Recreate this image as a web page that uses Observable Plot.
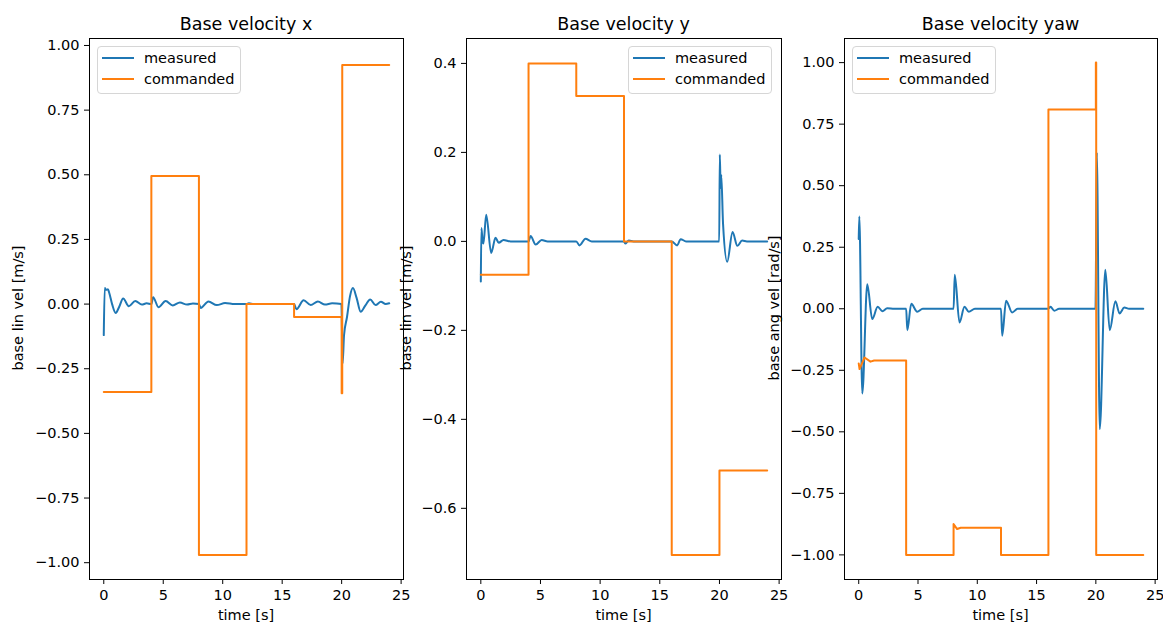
<!DOCTYPE html>
<html>
<head>
<meta charset="utf-8">
<script src="https://cdn.jsdelivr.net/npm/d3@7"></script>
<script src="https://cdn.jsdelivr.net/npm/@observablehq/plot@0.6"></script>
<style>
  body { margin: 0; background: #fff; }
  #root { position: relative; width: 1163px; height: 624px; overflow: hidden; font-family: "DejaVu Sans", sans-serif; color: #000; background: #fff; }
  .panel { position: absolute; top: 0; }
  .title { position: absolute; top: 14px; font-size: 17.5px; line-height: 20px; transform: translateX(-50%); white-space: nowrap; }
  .xlabel { position: absolute; font-size: 14.5px; transform: translate(-50%, -50%); white-space: nowrap; }
  .ylabel { position: absolute; font-size: 14.5px; transform: translate(-50%, -50%) rotate(-90deg); white-space: nowrap; }
  .legend { position: absolute; width: 144px; height: 48px; box-sizing: border-box; border: 1px solid #d6d6d6; border-radius: 4px; background: rgba(255,255,255,0.8); font-size: 14.5px; }
  .legend .sw { position: absolute; left: 4px; width: 32px; height: 2px; }
  .legend .lt { position: absolute; left: 46px; line-height: 18px; white-space: nowrap; }
</style>
</head>
<body>
<div id="root"></div>
<script>
// ---------------- data ----------------
const panelTitles = ["Base velocity x", "Base velocity y", "Base velocity yaw"];
const yLabels = ["base lin vel [m/s]", "base lin vel [m/s]", "base ang vel [rad/s]"];
const seriesNames = ["measured", "commanded"];
const xTicks = [0, 5, 10, 15, 20, 25];
const yTicksX = [-1.0, -0.75, -0.5, -0.25, 0, 0.25, 0.5, 0.75, 1.0];
const yTicksY = [-0.6, -0.4, -0.2, 0, 0.2, 0.4];
const yTicksYaw = [-1.0, -0.75, -0.5, -0.25, 0, 0.25, 0.5, 0.75, 1.0];

// Base velocity x — measured
const tMeasX = [0, 0.08, 0.2, 0.35, 0.45, 0.7, 1.0, 1.3, 1.63, 2.1, 2.65, 3.2, 3.6, 4.0, 4.15, 4.6, 5.2, 5.8, 6.4, 7.0, 7.5, 8.0, 8.15, 8.8, 9.5, 10.2, 11.0, 12.0, 12.2, 12.6, 16.0, 16.2, 16.8, 17.4, 18.0, 18.6, 19.2, 19.98, 20.08, 20.2, 20.45, 20.7, 20.95, 21.25, 21.6, 22.0, 22.4, 22.85, 23.3, 23.7, 24.0];
const vMeasX = [-0.12, 0.062, 0.055, 0.057, 0.045, 0.0, -0.034, -0.01, 0.022, -0.008, 0.012, -0.002, 0.003, 0.0, 0.026, -0.012, 0.012, -0.005, 0.006, -0.002, 0.002, 0.0, -0.015, 0.01, -0.004, 0.004, 0.0, 0.0, 0.003, 0.0, 0.0, -0.02, 0.015, -0.004, 0.01, -0.002, 0.003, 0.0, -0.23, -0.12, -0.05, 0.03, 0.062, 0.025, -0.03, -0.005, 0.018, -0.004, 0.009, 0.0, 0.003];
// Base velocity x — commanded
const tCmdX = [0, 4, 4, 8, 8, 12, 12, 16, 16, 20, 20, 20.05, 20.05, 24];
const vCmdX = [-0.34, -0.34, 0.495, 0.495, -0.97, -0.97, 0.0, 0.0, -0.05, -0.05, -0.345, -0.345, 0.925, 0.925];

// Base velocity y — measured
const tMeasY = [0, 0.05, 0.15, 0.22, 0.45, 0.87, 1.23, 1.5, 1.9, 2.5, 4.0, 4.17, 4.6, 5.1, 5.6, 8.0, 8.27, 8.77, 9.3, 12.0, 12.1, 12.4, 12.8, 16.0, 16.45, 16.75, 17.2, 19.98, 20.03, 20.1, 20.15, 20.3, 20.65, 21.1, 21.5, 21.9, 22.3, 24.0];
const vMeasY = [-0.09, 0.03, 0.0, -0.005, 0.06, -0.026, 0.008, -0.003, 0.003, 0.0, 0.0, 0.012, -0.007, 0.003, 0.0, 0.0, -0.009, 0.006, 0.0, 0.0, -0.005, 0.002, 0.0, 0.0, -0.009, 0.005, 0.0, 0.0, 0.195, 0.12, 0.15, 0.04, -0.046, 0.021, -0.01, 0.002, 0.0, 0.0];
// Base velocity y — commanded
const tCmdY = [0, 4, 4, 8, 8, 12, 12, 16, 16, 20, 20, 24];
const vCmdY = [-0.075, -0.075, 0.4, 0.4, 0.327, 0.327, 0.0, 0.0, -0.705, -0.705, -0.515, -0.515];

// Base velocity yaw — measured
const tMeasYaw = [0, 0.05, 0.3, 0.72, 1.14, 1.6, 2.0, 2.4, 3.0, 4.0, 4.1, 4.43, 4.93, 5.4, 8.0, 8.1, 8.5, 8.92, 9.28, 9.8, 12.0, 12.1, 12.43, 12.94, 13.4, 16.0, 16.17, 16.5, 16.9, 19.97, 20.08, 20.33, 20.8, 21.17, 21.65, 22.0, 22.4, 22.8, 24.0];
const vMeasYaw = [0.283, 0.375, -0.344, 0.10, -0.042, 0.008, -0.01, 0.002, 0.0, 0.0, -0.087, 0.02, -0.012, 0.0, 0.0, 0.138, -0.056, 0.008, -0.012, 0.0, 0.0, -0.11, 0.033, -0.015, 0.0, 0.0, 0.008, -0.008, 0.0, 0.0, 0.635, -0.489, 0.158, -0.087, 0.03, -0.019, 0.005, 0.0, 0.0];
// Base velocity yaw — commanded
const tCmdYaw = [0, 0.07, 0.49, 0.99, 1.3, 4, 4, 8, 8, 8.3, 8.6, 12, 12, 16, 16, 20, 20, 20.03, 20.03, 24];
const vCmdYaw = [-0.222, -0.245, -0.198, -0.215, -0.21, -0.21, -1.0, -1.0, -0.875, -0.895, -0.89, -0.89, -1.0, -1.0, 0.81, 0.81, 1.0, 1.0, -1.0, -1.0];

const colors = ["#1f77b4", "#ff7f0e"];

// ---------------- build ----------------
const toRows = (ts, vs) => ts.map((t, i) => ({t, v: vs[i]}));
const root = document.getElementById("root");

const panels = [
  {wrapLeft: 0, width: 430, frameL: 89, frameR: 403, yDomain: [-1.065, 1.027], yTicks: yTicksX, fmt: d3.format(".2f"),
   meas: toRows(tMeasX, vMeasX), cmd: toRows(tCmdX, vCmdX), legend: {left: 97, top: 46}, ylabelX: 18},
  {wrapLeft: 410, width: 400, frameL: 466, frameR: 781, yDomain: [-0.76, 0.456], yTicks: yTicksY, fmt: d3.format(".1f"),
   meas: toRows(tMeasY, vMeasY), cmd: toRows(tCmdY, vCmdY), legend: {left: 628, top: 46}, ylabelX: 406},
  {wrapLeft: 790, width: 373, frameL: 844, frameR: 1157, yDomain: [-1.1, 1.098], yTicks: yTicksYaw, fmt: d3.format(".2f"),
   meas: toRows(tMeasYaw, vMeasYaw), cmd: toRows(tCmdYaw, vCmdYaw), legend: {left: 852, top: 46}, ylabelX: 774}
];

panels.forEach((p, i) => {
  const wrap = document.createElement("div");
  wrap.className = "panel";
  wrap.style.left = p.wrapLeft + "px";
  wrap.style.width = p.width + "px";
  const svg = Plot.plot({
    width: p.width,
    height: 624,
    marginLeft: p.frameL - p.wrapLeft,
    marginRight: p.wrapLeft + p.width - p.frameR,
    marginTop: 38,
    marginBottom: 45,
    style: {background: "transparent", fontFamily: "DejaVu Sans, sans-serif", fontSize: "14.5px", color: "#000", overflow: "visible"},
    x: {domain: [-1.2, 25.2]},
    y: {domain: p.yDomain},
    marks: [
      Plot.line(p.meas, {x: "t", y: "v", stroke: colors[0], strokeWidth: 2, curve: "monotone-x"}),
      Plot.line(p.cmd, {x: "t", y: "v", stroke: colors[1], strokeWidth: 2}),
      Plot.frame({stroke: "#000", strokeWidth: 1}),
      Plot.axisX({ticks: xTicks, tickFormat: d => String(d), tickSize: 5, tickPadding: 5, label: null}),
      Plot.axisY({ticks: p.yTicks, tickFormat: p.fmt, tickSize: 5, tickPadding: 5, label: null})
    ]
  });
  wrap.appendChild(svg);
  root.appendChild(wrap);

  const cx = (p.frameL + p.frameR) / 2;
  const title = document.createElement("div");
  title.className = "title";
  title.style.left = cx + "px";
  title.textContent = panelTitles[i];
  root.appendChild(title);

  const xl = document.createElement("div");
  xl.className = "xlabel";
  xl.style.left = cx + "px";
  xl.style.top = "615px";
  xl.textContent = "time [s]";
  root.appendChild(xl);

  const yl = document.createElement("div");
  yl.className = "ylabel";
  yl.style.left = p.ylabelX + "px";
  yl.style.top = "308px";
  yl.textContent = yLabels[i];
  root.appendChild(yl);

  const lg = document.createElement("div");
  lg.className = "legend";
  lg.style.left = p.legend.left + "px";
  lg.style.top = p.legend.top + "px";
  seriesNames.forEach((name, k) => {
    const cyRow = 11 + k * 21;
    const sw = document.createElement("div");
    sw.className = "sw";
    sw.style.top = (cyRow - 1) + "px";
    sw.style.background = colors[k];
    lg.appendChild(sw);
    const lt = document.createElement("div");
    lt.className = "lt";
    lt.style.top = (cyRow - 9) + "px";
    lt.textContent = name;
    lg.appendChild(lt);
  });
  root.appendChild(lg);
});
</script>
</body>
</html>
